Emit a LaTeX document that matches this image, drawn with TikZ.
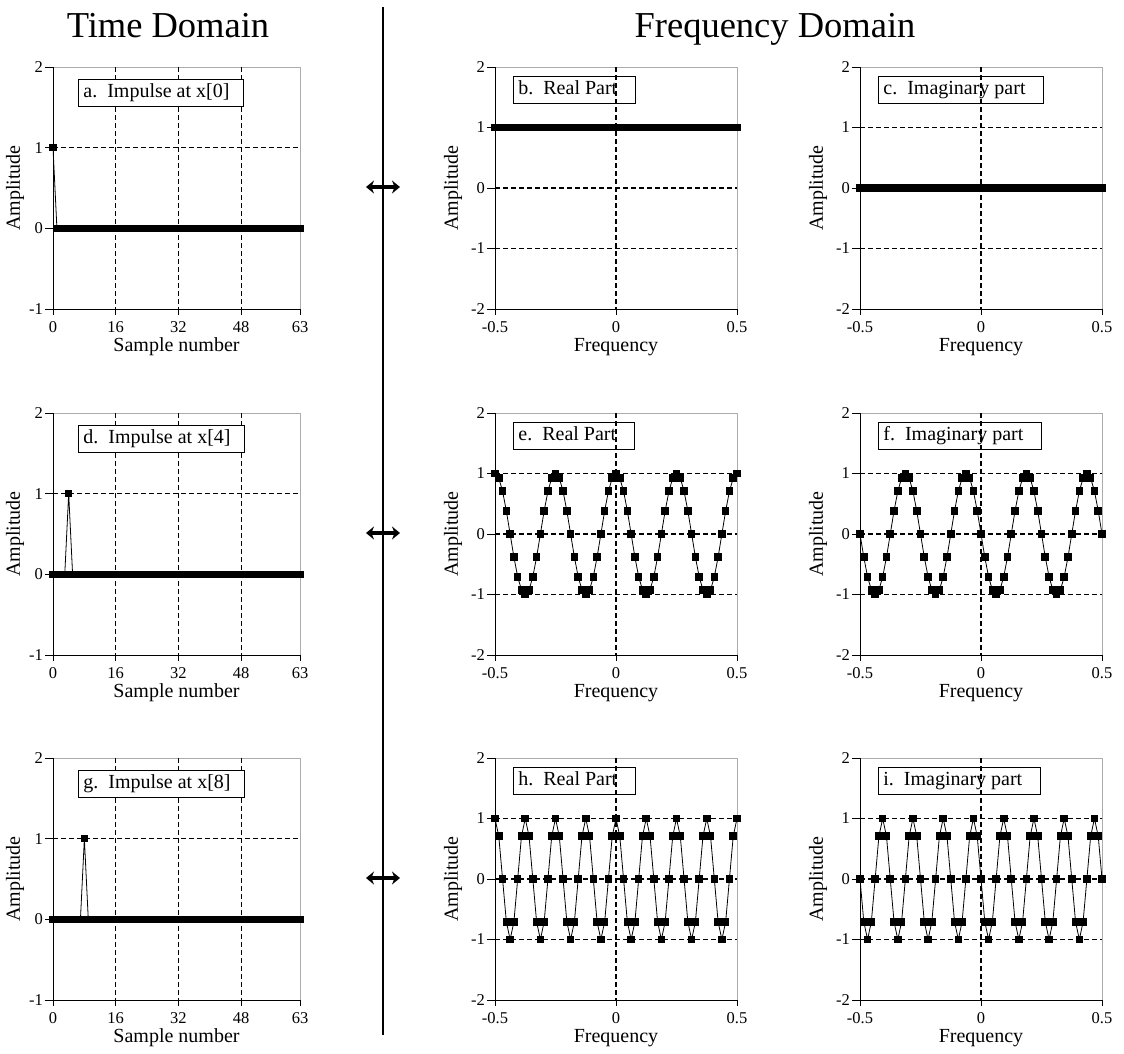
\documentclass[tikz,border=0pt]{standalone}
\usepackage{fontspec}
\setmainfont{Liberation Serif}
\usetikzlibrary{arrows.meta,plotmarks}

\tikzset{
  frame/.style={draw=gray!65, line width=1pt},
  axisline/.style={line width=1pt},
  gridline/.style={line width=1.2pt, dash pattern=on 5pt off 3pt},
  ticklbl/.style={font=\fontsize{16.5}{16.5}\selectfont, inner sep=0pt},
  axislbl/.style={font=\fontsize{20}{20}\selectfont, inner sep=0pt},
  plotlbl/.style={draw, fill=white, line width=0.8pt, anchor=north west, inner xsep=5pt, inner ysep=4pt,
    text height=14pt, text depth=4.5pt, font=\fontsize{20}{20}\selectfont},
  dataline/.style={line width=0.8pt, mark=square*, mark size=3.3pt, mark options={line width=0pt}},
  heading/.style={font=\fontsize{36.5}{36.5}\selectfont, inner sep=0pt, anchor=base},
  pairarrow/.style={line width=3.5pt, {Stealth[length=8pt,width=13pt]}-{Stealth[length=8pt,width=13pt]}}
}

\begin{document}
\begin{tikzpicture}[x=1pt, y=-1pt]
  \useasboundingbox (0,0) rectangle (1124,1053);

  % Headings
  \node (timehead) [heading] at (168,37) {Time Domain};
  \node (freqhead) [heading] at (775,37) {Frequency Domain};

  % Divider
  \coordinate (divtop) at (383,7);
  \coordinate (divbot) at (383,1035);
  \draw[line width=2pt] (divtop) -- (divbot);

  \foreach \r/\yo/\n/\la/\lb/\lc in {0/67/0/a/b/c, 1/413/4/d/e/f, 2/758/8/g/h/i} {
    % Time domain plot
    \begin{scope}[shift={(53,\yo)}]
      \draw[frame] (0,0) rectangle (247,242);
      \foreach \s in {16,32,48}
        \draw[gridline] ({\s*247/63},0) -- ({\s*247/63},242);
      \draw[gridline] (0,80.67) -- (247,80.67);
      \node (tlbl\r) [plotlbl] at (25,12) {\la.\hspace{0.5em}Impulse at x[\n]\hspace*{9pt}};
      \draw[axisline] (0,0) -- (0,242) -- (247,242);
      \foreach \v [count=\i from 0] in {2,1,0,-1} {
        \draw[axisline] (-8,{\i*80.67}) -- (0,{\i*80.67});
        \node (ty\r\i) [ticklbl, anchor=east] at (-10,{\i*80.67}) {\v};
      }
      \foreach \s [count=\i] in {0,16,32,48,63} {
        \draw[axisline] ({\s*247/63},242) -- ({\s*247/63},248);
        \node (tx\r\i) [ticklbl, anchor=base] at ({\s*247/63},265) {\s};
      }
      \node (tyname\r) [axislbl, rotate=90] at (-38,121) {Amplitude};
      \node (txname\r) [axislbl, anchor=base] at (123.5,284) {Sample number};
      % samples
      \begin{scope}[shift={(0,161.33)}, x=3.9206pt, y=80.67pt]
        \draw[dataline] plot[domain=0:63, samples=64] (\x, {abs(\x-\n)<0.5 ? 1 : 0});
      \end{scope}
    \end{scope}

    % Arrow between domains
    \coordinate (swl\r) at (366,{\yo+120});
    \coordinate (swr\r) at (400,{\yo+120});
    \draw[pairarrow] (swl\r) -- (swr\r);

    % Frequency domain plots
    \foreach \xo/\part/\lt in {495/0/{\lb.\hspace{0.5em}Real Part}, 860/1/{\lc.\hspace{0.5em}Imaginary part}} {
      \begin{scope}[shift={(\xo,\yo)}]
        \draw[frame] (0,0) rectangle (242,242);
        \foreach \v in {60.5,121,181.5}
          \draw[gridline] (0,\v) -- (242,\v);
        \node (flbl\r\part) [plotlbl] at (18,9) {\lt\hspace*{13pt}};
        \draw[gridline] (121,0) -- (121,242);
        \draw[axisline] (0,0) -- (0,242) -- (242,242);
        \foreach \v [count=\i from 0] in {2,1,0,-1,-2} {
          \draw[axisline] (-8,{\i*60.5}) -- (0,{\i*60.5});
          \node (fy\r\part\i) [ticklbl, anchor=east] at (-10,{\i*60.5}) {\v};
        }
        \foreach \f [count=\i from 0] in {-0.5,0,0.5} {
          \draw[axisline] ({\i*121},242) -- ({\i*121},248);
          \node (fx\r\part\i) [ticklbl, anchor=base] at ({\i*121},265) {\f};
        }
        \node (fyname\r\part) [axislbl, rotate=90] at (-42,121) {Amplitude};
        \node (fxname\r\part) [axislbl, anchor=base] at (121,284) {Frequency};
        % spectrum
        \begin{scope}[shift={(121,121)}, x=242pt, y=60.5pt]
          \draw[dataline] plot[domain=-32:32, samples=65]
            ({\x/64}, {(1-\part)*cos(5.625*\n*\x) - \part*sin(5.625*\n*\x)});
        \end{scope}
      \end{scope}
    }
  }
\end{tikzpicture}
\end{document}
